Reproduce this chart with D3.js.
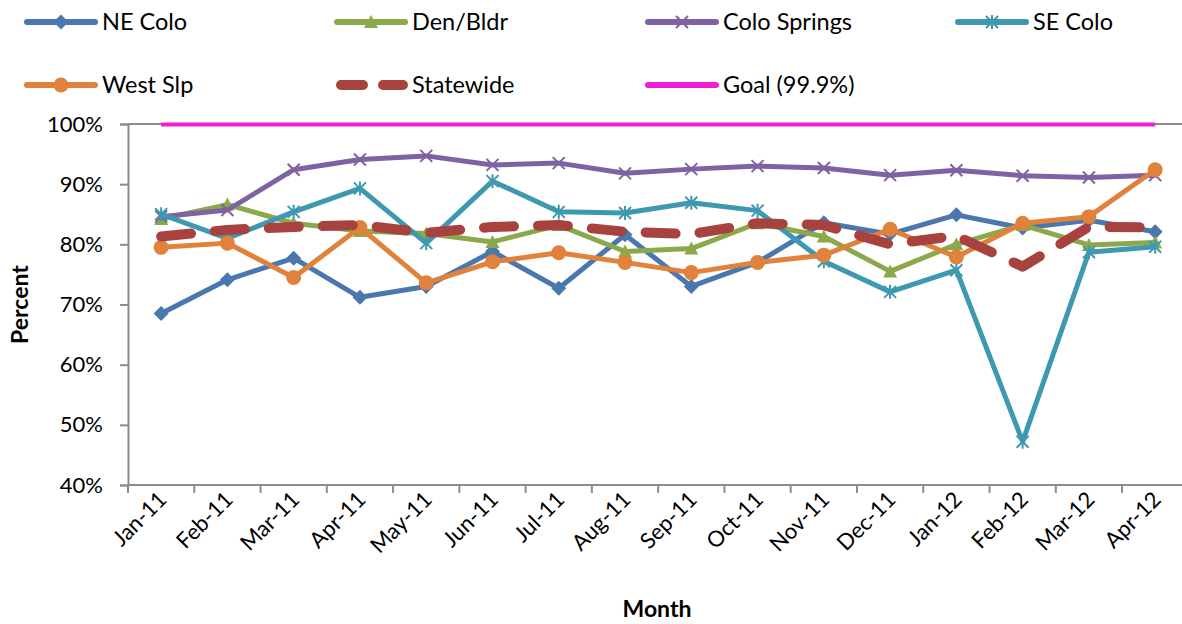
<!DOCTYPE html>
<html>
<head>
<meta charset="utf-8">
<script src="https://cdn.jsdelivr.net/npm/d3@7"></script>
<style>
  html, body { margin: 0; padding: 0; background: #fff; }
  svg { display: block; font-family: Lato, "Open Sans", sans-serif; }
</style>
</head>
<body>
<svg id="chart" width="1182" height="624"></svg>
<script>
// Monthly percentages by region, Jan 2011 - Apr 2012
const months = ["Jan-11","Feb-11","Mar-11","Apr-11","May-11","Jun-11","Jul-11","Aug-11",
                "Sep-11","Oct-11","Nov-11","Dec-11","Jan-12","Feb-12","Mar-12","Apr-12"];

const neColo      = [68.5, 74.1, 77.7, 71.2, 73.0, 78.8, 72.7, 81.6, 73.0, 77.0, 83.6, 81.7, 84.9, 82.7, 84.0, 82.1];
const denBldr     = [84.2, 86.6, 83.5, 82.2, 81.8, 80.4, 83.2, 78.8, 79.3, 83.5, 81.3, 75.5, 80.0, 83.2, 79.9, 80.3];
const coloSprings = [84.6, 85.7, 92.4, 94.1, 94.7, 93.2, 93.5, 91.8, 92.5, 93.0, 92.7, 91.5, 92.3, 91.4, 91.1, 91.5];
const seColo      = [85.0, 81.0, 85.4, 89.3, 80.2, 90.5, 85.4, 85.2, 86.9, 85.6, 77.2, 72.1, 75.7, 47.2, 78.7, 79.6];
const westSlp     = [79.5, 80.2, 74.5, 82.8, 73.6, 77.1, 78.6, 77.0, 75.3, 77.0, 78.2, 82.5, 77.9, 83.5, 84.6, 92.4];
const statewide   = [81.3, 82.4, 82.9, 83.2, 81.9, 82.9, 83.2, 82.1, 81.7, 83.5, 83.2, 80.0, 81.4, 76.3, 82.9, 82.8];
const goal        = months.map(() => 99.9);

const yTicks = [40, 50, 60, 70, 80, 90, 100];

const series = [
  { name: "NE Colo",      values: neColo,      color: "#4A77AE", marker: "diamond" },
  { name: "Den/Bldr",     values: denBldr,     color: "#8BA94A", marker: "triangle" },
  { name: "Colo Springs", values: coloSprings, color: "#7F62A2", marker: "x" },
  { name: "SE Colo",      values: seColo,      color: "#3E99B0", marker: "asterisk" },
  { name: "West Slp",     values: westSlp,     color: "#E0823B", marker: "circle" },
  { name: "Statewide",    values: statewide,   color: "#A8423F", marker: "none", dashed: true },
  { name: "Goal (99.9%)", values: goal,        color: "#F01ED2", marker: "none", thin: true }
];

const svg = d3.select("#chart");
const margin = { left: 128, top: 124, bottom: 485 };
const bandW = 66.27;

const x = d3.scaleBand().domain(months).range([margin.left, margin.left + bandW * months.length]).padding(0);
const cx = m => x(m) + x.bandwidth() / 2;
const y = d3.scaleLinear().domain([40, 100]).range([margin.bottom, margin.top]);

const axisColor = "#8c8c8c";

// top reference line at 100%
svg.append("line")
  .attr("x1", margin.left).attr("x2", 1182)
  .attr("y1", y(100)).attr("y2", y(100))
  .attr("stroke", axisColor).attr("stroke-width", 2);

// y axis
const yAxis = svg.append("g")
  .attr("transform", `translate(${margin.left},0)`)
  .call(d3.axisLeft(y).tickValues(yTicks).tickFormat(d => d + "%").tickSize(8).tickPadding(17));
yAxis.select(".domain").attr("stroke", axisColor).attr("stroke-width", 2);
yAxis.selectAll(".tick line").attr("stroke", axisColor).attr("stroke-width", 2);
yAxis.selectAll(".tick text").attr("font-size", 22).attr("fill", "#000").attr("font-family", "Lato, sans-serif");

// x axis line and ticks at category boundaries
svg.append("line")
  .attr("x1", margin.left).attr("x2", 1182)
  .attr("y1", y(40)).attr("y2", y(40))
  .attr("stroke", axisColor).attr("stroke-width", 2);
const boundaries = months.map(m => x(m)).concat([x.range()[1]]);
svg.append("g").selectAll("line").data(boundaries).join("line")
  .attr("x1", d => d).attr("x2", d => d)
  .attr("y1", y(40)).attr("y2", y(40) + 8)
  .attr("stroke", axisColor).attr("stroke-width", 2);

// rotated month labels
svg.append("g").selectAll("text").data(months).join("text")
  .attr("transform", d => `translate(${cx(d) + 7},${y(40) + 16}) rotate(-45)`)
  .attr("text-anchor", "end")
  .attr("font-size", 22)
  .attr("fill", "#000")
  .text(d => d);

// axis titles
svg.append("text")
  .attr("transform", `translate(28,${(y(40) + y(100)) / 2}) rotate(-90)`)
  .attr("text-anchor", "middle")
  .attr("font-size", 23).attr("font-weight", "bold")
  .text("Percent");
svg.append("text")
  .attr("x", 657).attr("y", 617)
  .attr("text-anchor", "middle")
  .attr("font-size", 23).attr("font-weight", "bold")
  .text("Month");

// marker shapes
function drawMarker(g, type, color) {
  if (type === "diamond") {
    g.append("path").attr("d", "M0,-7.5L7.5,0L0,7.5L-7.5,0Z").attr("fill", color);
  } else if (type === "triangle") {
    g.append("path").attr("d", "M0,-7L7,6L-7,6Z").attr("fill", color);
  } else if (type === "x") {
    g.append("path").attr("d", "M-6,-6L6,6M-6,6L6,-6").attr("stroke", color).attr("stroke-width", 2).attr("fill", "none");
  } else if (type === "asterisk") {
    g.append("path").attr("d", "M-6,-6L6,6M-6,6L6,-6M0,-7L0,7").attr("stroke", color).attr("stroke-width", 2).attr("fill", "none");
  } else if (type === "circle") {
    g.append("circle").attr("r", 7.5).attr("fill", color);
  }
}

const line = d3.line().x((d, i) => cx(months[i])).y(d => y(d));

// series lines with markers
series.forEach(s => {
  const g = svg.append("g");
  const p = g.append("path")
    .attr("d", line(s.values))
    .attr("fill", "none")
    .attr("stroke", s.color)
    .attr("stroke-linejoin", "round");
  if (s.dashed) {
    p.attr("stroke-width", 10).attr("stroke-dasharray", "30 24").attr("stroke-linecap", "round");
  } else if (s.thin) {
    p.attr("stroke-width", 4);
  } else {
    p.attr("stroke-width", 5).attr("stroke-linecap", "round");
  }
  if (s.marker !== "none") {
    s.values.forEach((v, i) => {
      const mg = g.append("g").attr("transform", `translate(${cx(months[i])},${y(v)})`);
      drawMarker(mg, s.marker, s.color);
    });
  }
});

// legend entries in a 4-column grid
const legendCols = [27, 337, 648, 958];
const legendRows = [22, 85];
series.forEach((s, i) => {
  const lx = legendCols[i % 4], ly = legendRows[Math.floor(i / 4)];
  const g = svg.append("g").attr("transform", `translate(${lx},${ly})`);
  if (s.dashed) {
    g.append("line").attr("x1", 4).attr("x2", 66).attr("y1", 0).attr("y2", 0)
      .attr("stroke", s.color).attr("stroke-width", 10).attr("stroke-linecap", "round")
      .attr("stroke-dasharray", "22 20");
  } else {
    g.append("line").attr("x1", 0).attr("x2", 68).attr("y1", 0).attr("y2", 0)
      .attr("stroke", s.color).attr("stroke-width", 6).attr("stroke-linecap", "round");
  }
  if (s.marker !== "none") {
    const mg = g.append("g").attr("transform", "translate(34,0)");
    drawMarker(mg, s.marker, s.color);
  }
  g.append("text").attr("x", 75).attr("y", 8).attr("font-size", 23.5).attr("fill", "#000").text(s.name);
});
</script>
</body>
</html>
